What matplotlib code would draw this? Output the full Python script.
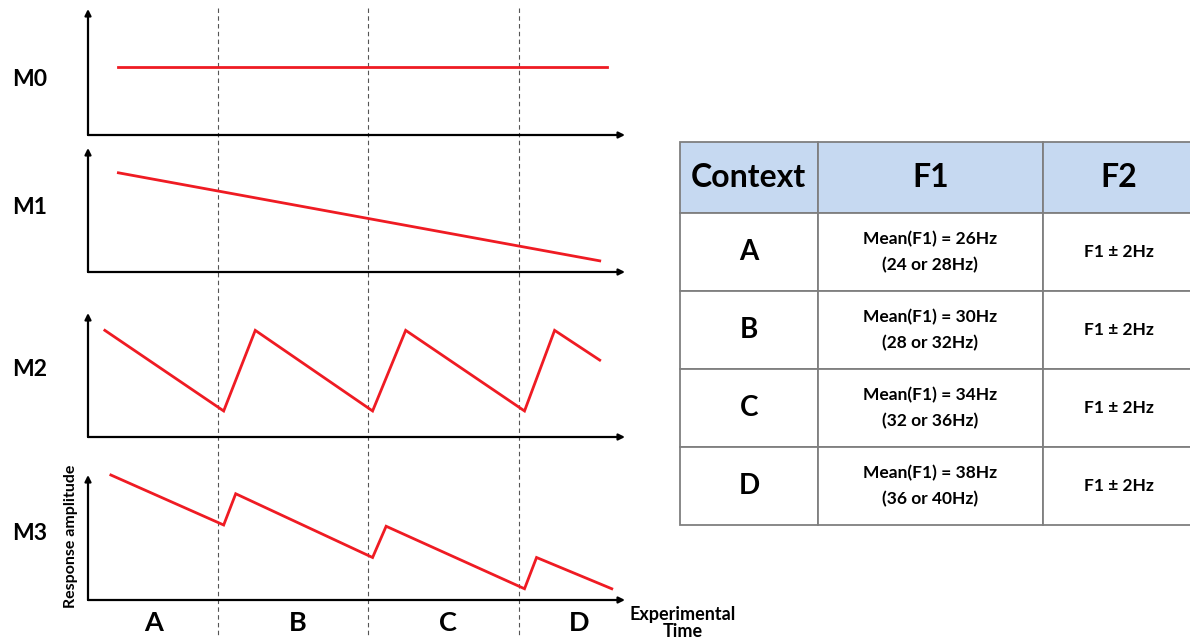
import matplotlib
matplotlib.use("Agg")
import matplotlib.pyplot as plt

plt.rcParams["font.family"] = ["Lato", "DejaVu Sans"]
plt.rcParams["font.weight"] = "bold"

W, H = 1190, 639

# time axis: one unit per context, boundaries between contexts at 1, 2, 3
contexts = ["A", "B", "C", "D"]
boundaries = [1, 2, 3]
context_label_t = [0.575, 1.53, 2.53, 3.40]

models = ["M0", "M1", "M2", "M3"]
m0_t = [0.34, 3.59]
m0_y = [0.54, 0.54]
m1_t = [0.34, 3.54]
m1_y = [0.80, 0.09]
m2_t = [0.25, 1.04, 1.25, 2.03, 2.25, 3.04, 3.24, 3.54]
m2_y = [0.86, 0.21, 0.86, 0.21, 0.86, 0.21, 0.86, 0.62]
m3_t = [0.29, 1.04, 1.12, 2.03, 2.12, 3.04, 3.12, 3.62]
m3_y = [1.00, 0.60, 0.85, 0.34, 0.59, 0.09, 0.34, 0.09]
series = [(m0_t, m0_y), (m1_t, m1_y), (m2_t, m2_y), (m3_t, m3_y)]

table_cols = ["Context", "F1", "F2"]
f1_mean = [26, 30, 34, 38]
f1_pair = [(24, 28), (28, 32), (32, 36), (36, 40)]
f2_rule = "F1 ± 2Hz"

RED = "#ef1b23"
XLIM = (0.138, 3.708)


def px_axes(fig, x0, y0, x1, y1):
    """Axes placed by pixel box (top-left origin)."""
    return fig.add_axes([x0 / W, 1 - y1 / H, (x1 - x0) / W, (y1 - y0) / H])


fig = plt.figure(figsize=(W / 100, H / 100), dpi=100)

# dashed context boundaries running through all panels
ov = px_axes(fig, 88, 0, 625, 639)
ov.set_xlim(*XLIM)
ov.set_ylim(639, 0)
ov.axis("off")
ov.vlines(boundaries, 8, 636, colors="#555555", linestyles=(0, (4, 3)), lw=0.8)
for t, c in zip(context_label_t, contexts):
    ov.text(t, 623, c, ha="center", va="center", fontsize=19.5, fontweight="bold")

# model panels
panel_px = [(9, 135), (148, 272), (313, 437), (475, 600)]
label_y = [80, 207, 370, 533]
for (top, bot), name, ly, (t, y) in zip(panel_px, models, label_y, series):
    ax = px_axes(fig, 88, top, 625, bot)
    ax.patch.set_alpha(0)
    ax.set_xlim(*XLIM)
    ax.set_ylim(0, 1)
    ax.axis("off")
    arrow = dict(arrowstyle="-|>", color="black", lw=1.6, mutation_scale=9,
                 shrinkA=0, shrinkB=0)
    ax.annotate("", xy=(1, 0), xytext=(0, 0), xycoords="axes fraction", arrowprops=arrow)
    ax.annotate("", xy=(0, 1), xytext=(0, 0), xycoords="axes fraction", arrowprops=arrow)
    ax.plot(t, y, color=RED, lw=2.0, solid_joinstyle="miter", clip_on=False)
    fig.text(12 / W, 1 - ly / H, name, ha="left", va="center", fontsize=16.5,
             fontweight="bold")

fig.text(71.5 / W, 1 - 536 / H, "Response amplitude", rotation=90, ha="center",
         va="center", fontsize=11.5, fontweight="bold")
fig.text(683 / W, 1 - 623 / H, "Experimental\nTime", ha="center", va="center",
         fontsize=13, fontweight="bold", linespacing=0.95)

# context table
rows = [[c, f"Mean(F1) = {m}Hz\n({lo} or {hi}Hz)", f2_rule]
        for c, m, (lo, hi) in zip(contexts, f1_mean, f1_pair)]
tax = px_axes(fig, 680, 141.7, 1195, 525)
tax.axis("off")
tbl = tax.table(cellText=rows, colLabels=table_cols, colWidths=[137.7, 225.3, 152],
                cellLoc="center", bbox=[0, 0, 1, 1])
tbl.auto_set_font_size(False)
for (r, c), cell in tbl.get_celld().items():
    cell.set_edgecolor("#7f7f7f")
    cell.set_linewidth(1.3)
    txt = cell.get_text()
    txt.set_fontweight("bold")
    if r == 0:
        cell.set_facecolor("#c6d9f1")
        cell.set_height(cell.get_height() * 71.6 / 78)
        txt.set_fontsize(23)
    elif c == 0:
        txt.set_fontsize(20)
    else:
        txt.set_fontsize(12.5)
        txt.set_linespacing(1.75)

fig.savefig("out.png", dpi=100)
